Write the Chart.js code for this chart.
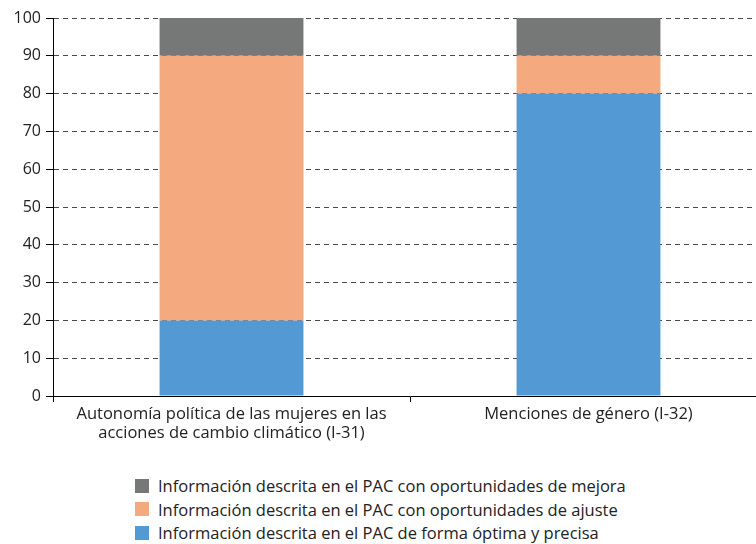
<!DOCTYPE html>
<html>
<head>
<meta charset="utf-8">
<script src="https://cdn.jsdelivr.net/npm/chart.js@4"></script>
<style>
  html, body { margin: 0; padding: 0; background: #fff; overflow: hidden; width: 756px; height: 544px; }
  #wrap { position: relative; width: 768px; height: 450px; }
  #legend { position: absolute; left: 135px; top: 474px; font-family: "Open Sans", Lato, sans-serif; font-size: 16.5px; color: #222; }
  .item { display: flex; align-items: center; height: 23.5px; white-space: nowrap; }
  .box { width: 14px; height: 14px; margin-right: 9px; }
</style>
</head>
<body>
<div id="wrap"><canvas id="c" width="768" height="450"></canvas></div>
<div id="legend"></div>
<script>
const categories = [
  ["Autonomía política de las mujeres en las", "acciones de cambio climático (I-31)"],
  "Menciones de género (I-32)"
];
const seriesNames = [
  "Información descrita en el PAC de forma óptima y precisa",
  "Información descrita en el PAC con oportunidades de ajuste",
  "Información descrita en el PAC con oportunidades de mejora"
];
const optimaValues = [20, 80];
const ajusteValues = [70, 10];
const mejoraValues = [10, 10];
const seriesColors = ["#5399d4", "#f4a97f", "#757877"];
const yTicks = [0, 10, 20, 30, 40, 50, 60, 70, 80, 90, 100];

const FONT = '"Open Sans", Lato, sans-serif';
const seriesValues = [optimaValues, ajusteValues, mejoraValues];

const chart = new Chart(document.getElementById('c'), {
  type: 'bar',
  data: {
    labels: categories,
    datasets: seriesNames.map((n, i) => ({
      label: n,
      data: seriesValues[i],
      backgroundColor: seriesColors[i],
      borderWidth: 0,
      barPercentage: 0.403,
      categoryPercentage: 1.0
    }))
  },
  options: {
    responsive: false,
    animation: false,
    layout: { padding: { top: 18, right: 1, left: 0, bottom: 0 } },
    plugins: { legend: { display: false }, tooltip: { enabled: false } },
    scales: {
      x: {
        stacked: true,
        afterFit: s => { s.height = 54; },
        grid: { offset: true, drawOnChartArea: false, drawTicks: true, tickLength: 6, color: '#000', tickColor: '#000' },
        border: { display: true, color: '#000', width: 1 },
        ticks: { color: '#222', font: { family: FONT, size: 16.5, lineHeight: 1.2 }, padding: 2, maxRotation: 0, autoSkip: false }
      },
      y: {
        stacked: true,
        min: 0, max: 100,
        afterFit: s => { s.width = 53; },
        afterBuildTicks: s => { s.ticks = yTicks.map(v => ({ value: v })); },
        grid: { color: '#4a4a4a', lineWidth: 1, tickLength: 7, tickColor: '#000', tickBorderDash: [] },
        border: { display: true, color: '#000', width: 1, dash: [5, 4] },
        ticks: { color: '#222', font: { family: FONT, size: 16 }, padding: 5 }
      }
    }
  }
});

const legend = document.getElementById('legend');
[2, 1, 0].forEach(i => {
  const d = document.createElement('div');
  d.className = 'item';
  d.innerHTML = '<span class="box" style="background:' + seriesColors[i] + '"></span><span></span>';
  d.lastChild.textContent = seriesNames[i];
  legend.appendChild(d);
});
</script>
</body>
</html>
